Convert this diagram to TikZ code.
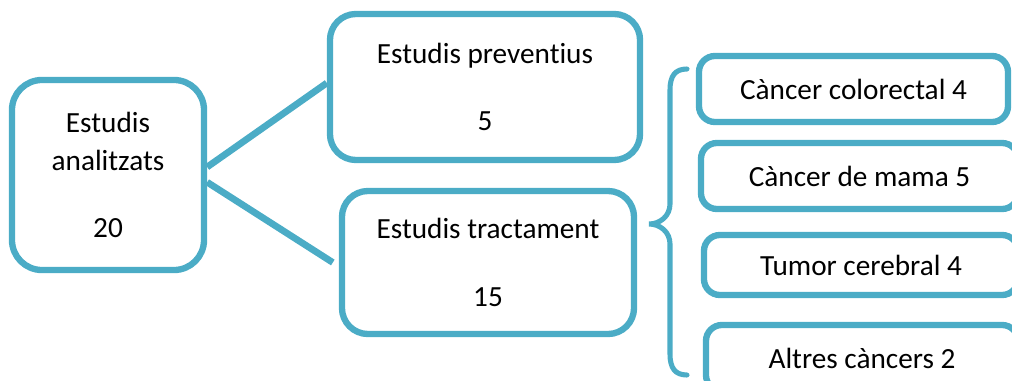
\documentclass[tikz,border=0pt]{standalone}
\usepackage{fontspec}
\setmainfont{Carlito}[Ligatures=NoCommon]
\usepackage{tikz}
\usetikzlibrary{positioning,calc}
\definecolor{aqua}{RGB}{75,172,198}

\begin{document}
\begin{tikzpicture}[x=0.025cm, y=-0.025cm,
        font=\fontsize{20.8}{27}\selectfont,
        box/.style={draw=aqua, line width=4.5pt, fill=white, align=center, inner sep=0pt},
        link/.style={draw=aqua, line width=4.8pt},
        brace/.style={draw=aqua, line width=3.6pt, line cap=round}]
        \path[use as bounding box, clip] (0,0) rectangle (1012,381);
        \node[box, rounded corners=0.75cm, minimum width=4.8cm, minimum height=4.75cm] (ana) at (108,175) {Estudis\\analitzats\\[21pt]20};
        \node[box, rounded corners=0.65cm, minimum width=7.75cm, minimum height=3.65cm] (prev) at (485,87) {Estudis preventius\\[21pt]5};
        \node[box, rounded corners=0.65cm, minimum width=7.3cm, minimum height=3.575cm] (trac) at (488,262.5) {Estudis tractament\\[21pt]15};
        \node[box, rounded corners=0.4cm, minimum width=7.725cm, minimum height=1.65cm] (colo) at (853.5,89) {Càncer colorectal 4};
        \node[box, rounded corners=0.4cm, minimum width=7.925cm, minimum height=1.65cm] (mama) at (859.5,176) {Càncer de mama 5};
        \node[box, rounded corners=0.4cm, minimum width=7.85cm, minimum height=1.5cm] (cere) at (861,265) {Tumor cerebral 4};
        \node[box, rounded corners=0.4cm, minimum width=7.8cm, minimum height=1.65cm] (altr) at (862,358) {Altres càncers 2};
        \draw[link] ([yshift=0.2cm]ana.east) -- ([yshift=0.1cm]prev.west);
        \draw[link] ([yshift=-0.18cm]ana.east) -- ([xshift=-0.15cm]trac.west);
        \draw[brace] (687,69) .. controls (675,69) and (670,76) .. (670,90) -- (670,204)
            .. controls (670,216) and (660,224) .. (649,224)
            .. controls (660,224) and (670,232) .. (670,244) -- (670,354)
            .. controls (670,368) and (675,375) .. (687,375);
    \end{tikzpicture}
\end{document}
